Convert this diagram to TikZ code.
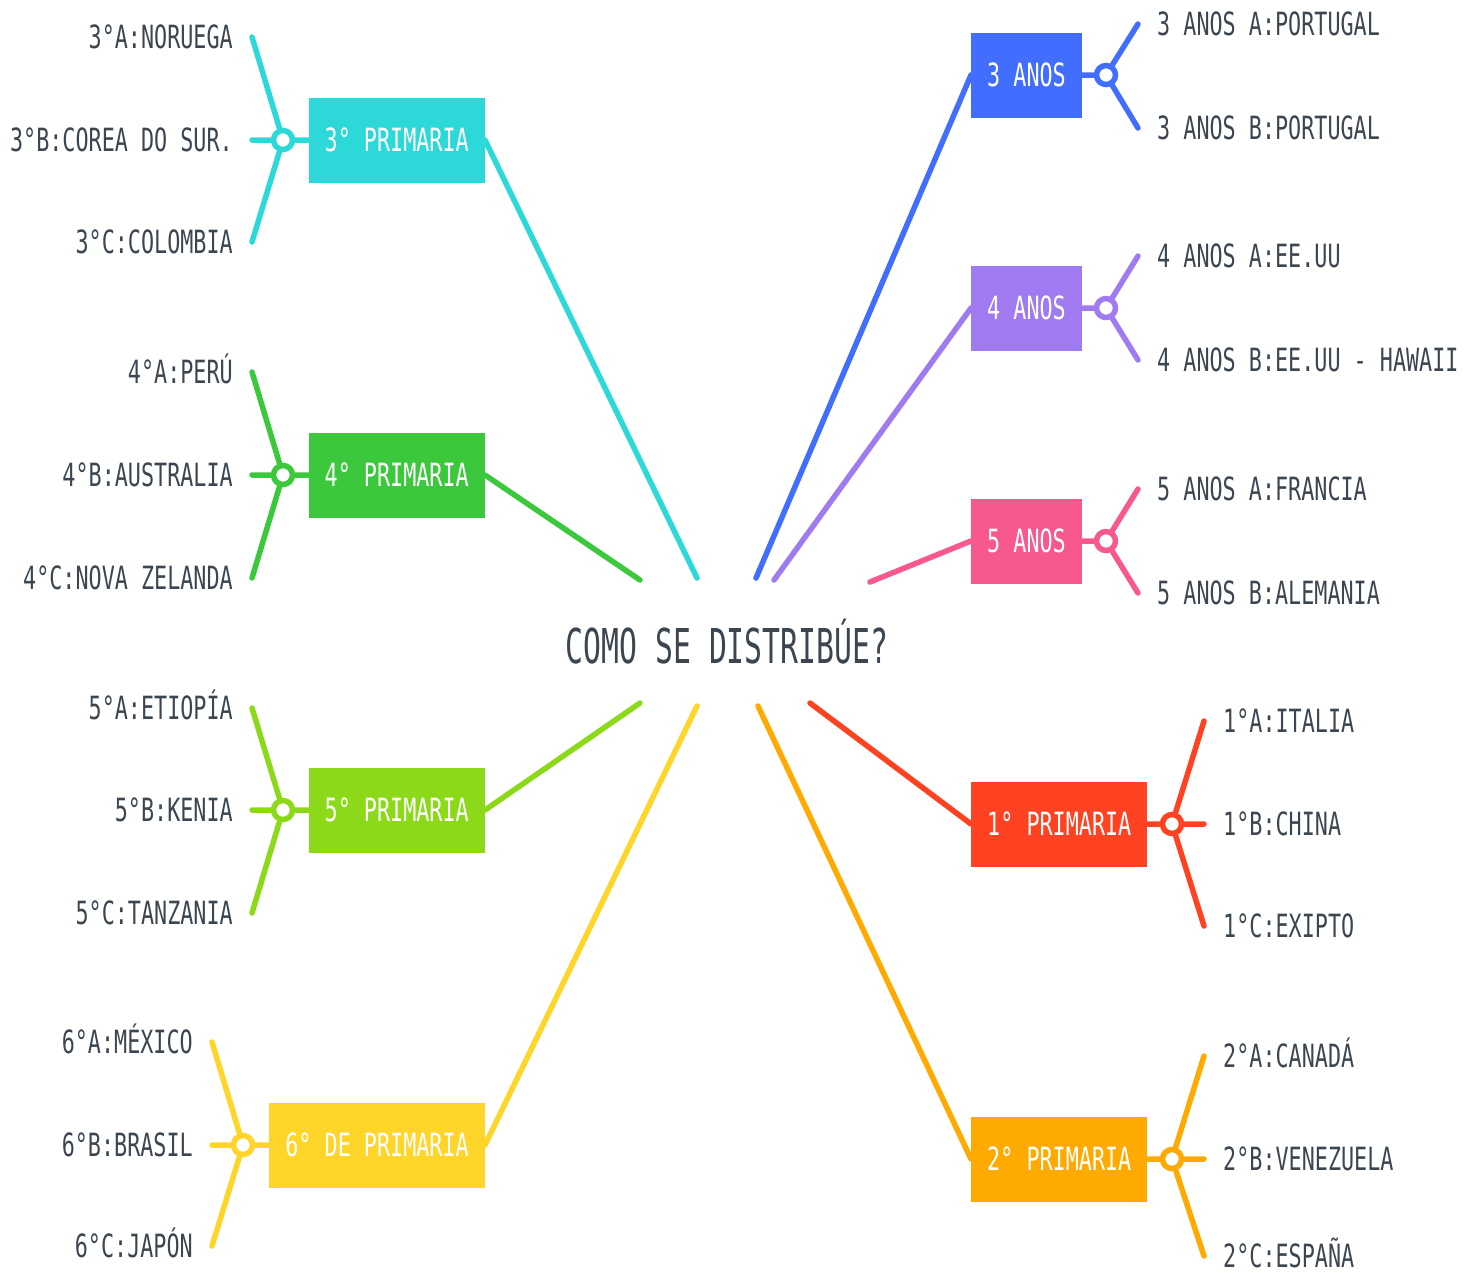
\documentclass[tikz,border=0pt]{standalone}
\usepackage{fontspec}
\setmainfont[FakeStretch=0.68]{DejaVu Sans Mono}
\newfontfamily\titlefont[FakeStretch=0.62]{DejaVu Sans Mono}
\usetikzlibrary{positioning}
\definecolor{labelgray}{RGB}{60,70,80}
\definecolor{tcyan}{RGB}{45,217,216}
\definecolor{tgreen}{RGB}{60,200,60}
\definecolor{tlime}{RGB}{140,217,25}
\definecolor{tyellow}{RGB}{255,213,42}
\definecolor{tblue}{RGB}{66,110,255}
\definecolor{tpurple}{RGB}{160,122,240}
\definecolor{tpink}{RGB}{247,88,141}
\definecolor{tred}{RGB}{255,66,33}
\definecolor{torange}{RGB}{255,170,0}

\begin{document}
\begin{tikzpicture}[x=1pt,y=-1pt]
\tikzset{branch/.style={line width=5.5pt, line cap=round}}
\tikzset{topic/.style={rectangle, fill=#1, text=white, minimum height=85pt, inner xsep=16pt, font=\fontsize{32}{32}\selectfont, text height=23pt, text depth=0pt}}
\tikzset{hub/.style={circle, draw=#1, fill=white, line width=5.5pt, minimum size=19pt, inner sep=0pt}}
\tikzset{leaf/.style={text=labelgray, inner xsep=19pt, font=\fontsize{32}{32}\selectfont, text height=23pt, text depth=0pt}}
\useasboundingbox (0,0) rectangle (1480,1275);

\node[text=labelgray, font=\titlefont\fontsize{48}{48}\selectfont] (title) at (727,642) {COMO SE DISTRIBÚE?};

% left side
\node[topic=tcyan, anchor=east] (p3) at (485,140) {3° PRIMARIA};
\node[hub=tcyan] (h3) at (283,140) {};
\node[leaf, anchor=east] (p3a) at (252,37) {3°A:NORUEGA};
\node[leaf, anchor=east] (p3b) at (252,140) {3°B:COREA DO SUR.};
\node[leaf, anchor=east] (p3c) at (252,242) {3°C:COLOMBIA};
\coordinate (e3) at (697,578);
\draw[branch, tcyan] (h3) -- (p3a.east) (h3) -- (p3b.east) (h3) -- (p3c.east) (h3) -- (p3) (p3.east) -- (e3);

\node[topic=tgreen, anchor=east] (p4) at (485,475) {4° PRIMARIA};
\node[hub=tgreen] (h4) at (283,475) {};
\node[leaf, anchor=east] (p4a) at (252,372) {4°A:PERÚ};
\node[leaf, anchor=east] (p4b) at (252,475) {4°B:AUSTRALIA};
\node[leaf, anchor=east] (p4c) at (252,578) {4°C:NOVA ZELANDA};
\coordinate (e4) at (640,580);
\draw[branch, tgreen] (h4) -- (p4a.east) (h4) -- (p4b.east) (h4) -- (p4c.east) (h4) -- (p4) (p4.east) -- (e4);

\node[topic=tlime, anchor=east] (p5) at (485,810) {5° PRIMARIA};
\node[hub=tlime] (h5) at (283,810) {};
\node[leaf, anchor=east] (p5a) at (252,708) {5°A:ETIOPÍA};
\node[leaf, anchor=east] (p5b) at (252,810) {5°B:KENIA};
\node[leaf, anchor=east] (p5c) at (252,913) {5°C:TANZANIA};
\coordinate (e5) at (640,703);
\draw[branch, tlime] (h5) -- (p5a.east) (h5) -- (p5b.east) (h5) -- (p5c.east) (h5) -- (p5) (p5.east) -- (e5);

\node[topic=tyellow, anchor=east] (p6) at (485,1145) {6° DE PRIMARIA};
\node[hub=tyellow] (h6) at (243,1145) {};
\node[leaf, anchor=east] (p6a) at (212,1042) {6°A:MÉXICO};
\node[leaf, anchor=east] (p6b) at (212,1145) {6°B:BRASIL};
\node[leaf, anchor=east] (p6c) at (212,1246) {6°C:JAPÓN};
\coordinate (e6) at (697,706);
\draw[branch, tyellow] (h6) -- (p6a.east) (h6) -- (p6b.east) (h6) -- (p6c.east) (h6) -- (p6) (p6.east) -- (e6);

% right side
\node[topic=tblue, anchor=west] (a3) at (971,75) {3 ANOS};
\node[hub=tblue] (ha3) at (1106,75) {};
\node[leaf, anchor=west] (a3a) at (1138,24) {3 ANOS A:PORTUGAL};
\node[leaf, anchor=west] (a3b) at (1138,128) {3 ANOS B:PORTUGAL};
\coordinate (ea3) at (756,578);
\draw[branch, tblue] (ha3) -- (a3a.west) (ha3) -- (a3b.west) (ha3) -- (a3) (a3.west) -- (ea3);

\node[topic=tpurple, anchor=west] (a4) at (971,308) {4 ANOS};
\node[hub=tpurple] (ha4) at (1106,308) {};
\node[leaf, anchor=west] (a4a) at (1138,256) {4 ANOS A:EE.UU};
\node[leaf, anchor=west] (a4b) at (1138,360) {4 ANOS B:EE.UU - HAWAII};
\coordinate (ea4) at (774,580);
\draw[branch, tpurple] (ha4) -- (a4a.west) (ha4) -- (a4b.west) (ha4) -- (a4) (a4.west) -- (ea4);

\node[topic=tpink, anchor=west] (a5) at (971,541) {5 ANOS};
\node[hub=tpink] (ha5) at (1106,541) {};
\node[leaf, anchor=west] (a5a) at (1138,489) {5 ANOS A:FRANCIA};
\node[leaf, anchor=west] (a5b) at (1138,593) {5 ANOS B:ALEMANIA};
\coordinate (ea5) at (870,582);
\draw[branch, tpink] (ha5) -- (a5a.west) (ha5) -- (a5b.west) (ha5) -- (a5) (a5.west) -- (ea5);

\node[topic=tred, anchor=west] (p1) at (971,824) {1° PRIMARIA};
\node[hub=tred] (h1) at (1172,824) {};
\node[leaf, anchor=west] (p1a) at (1204,721) {1°A:ITALIA};
\node[leaf, anchor=west] (p1b) at (1204,824) {1°B:CHINA};
\node[leaf, anchor=west] (p1c) at (1204,926) {1°C:EXIPTO};
\coordinate (e1) at (810,703);
\draw[branch, tred] (h1) -- (p1a.west) (h1) -- (p1b.west) (h1) -- (p1c.west) (h1) -- (p1) (p1.west) -- (e1);

\node[topic=torange, anchor=west] (p2) at (971,1159) {2° PRIMARIA};
\node[hub=torange] (h2) at (1172,1159) {};
\node[leaf, anchor=west] (p2a) at (1204,1056) {2°A:CANADÁ};
\node[leaf, anchor=west] (p2b) at (1204,1159) {2°B:VENEZUELA};
\node[leaf, anchor=west] (p2c) at (1204,1256) {2°C:ESPAÑA};
\coordinate (e2) at (758,706);
\draw[branch, torange] (h2) -- (p2a.west) (h2) -- (p2b.west) (h2) -- (p2c.west) (h2) -- (p2) (p2.west) -- (e2);
\end{tikzpicture}
\end{document}
